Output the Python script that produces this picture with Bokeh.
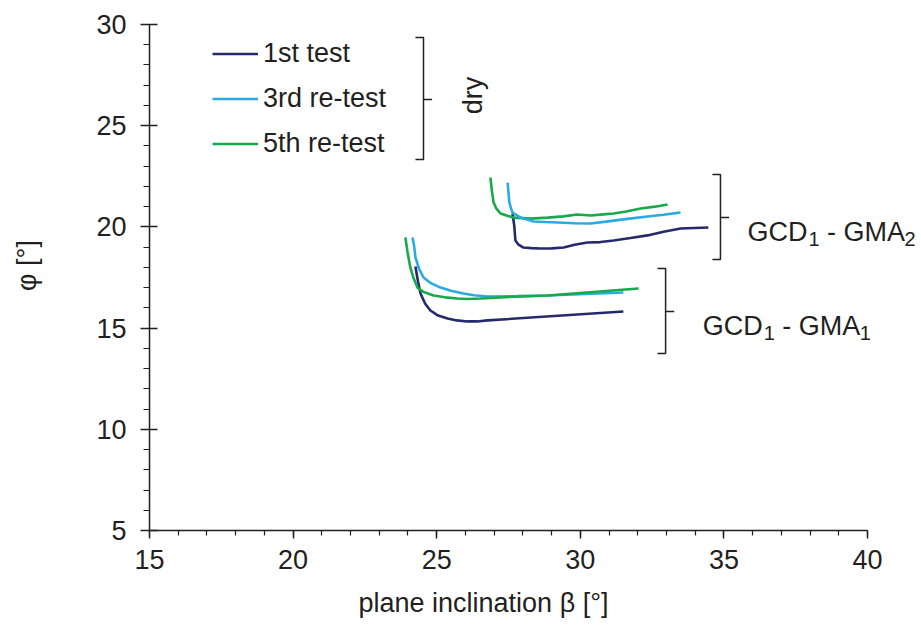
from bokeh.plotting import figure
from bokeh.models import (Range1d, SingleIntervalTicker, FixedTicker, LinearAxis,
                          Legend, LegendItem, Label, Title)
from bokeh.embed import file_html
from bokeh.resources import INLINE
import math

# ---- data ----
gma1_1st_x = [24.26, 24.30, 24.35, 24.44, 24.60, 24.78, 25.05, 25.38, 25.70, 26.07, 26.40, 26.77, 31.50]
gma1_1st_y = [18.04, 17.70, 17.30, 16.70, 16.20, 15.87, 15.62, 15.47, 15.38, 15.33, 15.33, 15.38, 15.82]
gma1_3rd_x = [24.16, 24.22, 24.26, 24.38, 24.54, 24.80, 25.13, 25.50, 25.93, 26.30, 26.77, 27.80, 28.86, 31.50]
gma1_3rd_y = [19.48, 19.00, 18.49, 17.95, 17.50, 17.22, 17.00, 16.85, 16.71, 16.62, 16.56, 16.58, 16.61, 16.76]
gma1_5th_x = [23.91, 23.98, 24.08, 24.20, 24.33, 24.55, 24.89, 25.30, 25.72, 26.10, 26.52, 27.70, 28.86, 32.03]
gma1_5th_y = [19.48, 18.80, 18.00, 17.45, 17.00, 16.78, 16.61, 16.52, 16.46, 16.44, 16.46, 16.55, 16.61, 16.96]

gma2_1st_x = [27.64, 27.67, 27.70, 27.74, 27.85, 28.02, 28.30, 28.61, 29.00, 29.42, 29.80, 30.25, 30.70, 31.16, 31.75, 32.34, 32.90, 33.49, 34.46]
gma2_1st_y = [20.66, 20.35, 20.07, 19.33, 19.12, 18.98, 18.95, 18.93, 18.94, 18.98, 19.12, 19.23, 19.25, 19.33, 19.45, 19.58, 19.76, 19.92, 19.97]
gma2_3rd_x = [27.47, 27.50, 27.53, 27.58, 27.64, 27.92, 28.37, 28.80, 29.21, 29.80, 30.36, 30.90, 31.50, 32.34, 32.90, 33.49]
gma2_3rd_y = [22.19, 21.70, 21.21, 20.95, 20.71, 20.46, 20.27, 20.24, 20.22, 20.18, 20.17, 20.26, 20.37, 20.51, 20.60, 20.71]
gma2_5th_x = [26.87, 26.92, 26.98, 27.08, 27.22, 27.67, 28.27, 28.86, 29.40, 29.90, 30.36, 30.80, 31.16, 31.60, 32.10, 32.60, 33.04]
gma2_5th_y = [22.44, 21.80, 21.21, 20.90, 20.66, 20.46, 20.41, 20.46, 20.52, 20.61, 20.56, 20.62, 20.66, 20.76, 20.91, 21.00, 21.11]

series_labels = ["1st test", "3rd re-test", "5th re-test"]
series_colors = ["#252a6c", "#2aaae2", "#18a94b"]

x_axis_bounds = (15, 40)
y_axis_bounds = (5, 30)
y_title_span = (12.6, 30)   # span along which the y-axis title is centred

# bracket annotations: (x of spine, y bottom, y top, y of middle tick)
bracket_dry = (24.54, 23.33, 29.36, 26.30)
bracket_gma2 = (34.88, 18.39, 22.59, 20.46)
bracket_gma1 = (32.97, 13.74, 17.94, 15.82)

INK = "#231f20"
FONT = "Liberation Sans"
FS = "27px"
SUBFS = "20px"

# frame: x 15..40 spans 718 px, y 5..30 spans 506 px; frame extended to the
# right/top canvas edges so that annotation texts are not clipped
FW, FH = 772, 530
x_end = x_axis_bounds[0] + (x_axis_bounds[1] - x_axis_bounds[0]) * FW / 718
y_end = y_axis_bounds[0] + (y_axis_bounds[1] - y_axis_bounds[0]) * FH / 506

p = figure(frame_width=FW, frame_height=FH,
           min_border_left=149, min_border_right=0,
           min_border_top=0, min_border_bottom=98,
           x_range=Range1d(x_axis_bounds[0], x_end), y_range=Range1d(y_axis_bounds[0], y_end),
           output_backend="svg", toolbar_location=None)
p.xgrid.visible = False
p.ygrid.visible = False
p.outline_line_color = None
p.background_fill_color = "white"
p.border_fill_color = "white"

for ax in (p.xaxis[0], p.yaxis[0]):
    ax.ticker = SingleIntervalTicker(interval=5, num_minor_ticks=5)
    ax.axis_line_color = INK
    ax.axis_line_width = 1.5
    ax.major_tick_line_color = INK
    ax.major_tick_line_width = 1.5
    ax.minor_tick_line_color = INK
    ax.minor_tick_line_width = 1.2
    ax.major_label_text_font = FONT
    ax.major_label_text_font_size = FS
    ax.major_label_text_color = INK
    ax.minor_tick_in = 0

p.xaxis[0].bounds = x_axis_bounds
p.yaxis[0].bounds = y_axis_bounds
p.xaxis[0].major_tick_in = 0
p.xaxis[0].major_tick_out = 8
p.xaxis[0].minor_tick_out = 5
p.xaxis[0].major_label_standoff = 11
p.yaxis[0].major_tick_in = 8
p.yaxis[0].major_tick_out = 9
p.yaxis[0].minor_tick_out = 6
p.yaxis[0].major_label_standoff = 14

# y axis title, carried by a bare extra axis so that it can sit higher up
title_axis = LinearAxis(ticker=FixedTicker(ticks=[]), bounds=y_title_span,
                        axis_line_color=None, major_tick_line_color=None,
                        minor_tick_line_color=None, major_label_standoff=0,
                        major_tick_in=0, major_tick_out=0, minor_tick_in=0, minor_tick_out=0,
                        axis_label="\u03c6 [\u00b0]", axis_label_standoff=52,
                        axis_label_text_font=FONT, axis_label_text_font_size=FS,
                        axis_label_text_font_style="normal", axis_label_text_color=INK)
p.add_layout(title_axis, "left")

# ---- curves ----
lw = 2.6
r1 = p.line(gma1_1st_x, gma1_1st_y, line_color=series_colors[0], line_width=lw)
r3 = p.line(gma1_3rd_x, gma1_3rd_y, line_color=series_colors[1], line_width=lw)
r5 = p.line(gma1_5th_x, gma1_5th_y, line_color=series_colors[2], line_width=lw)
p.line(gma2_1st_x, gma2_1st_y, line_color=series_colors[0], line_width=lw)
p.line(gma2_5th_x, gma2_5th_y, line_color=series_colors[2], line_width=lw)
p.line(gma2_3rd_x, gma2_3rd_y, line_color=series_colors[1], line_width=lw)

legend = Legend(items=[LegendItem(label=series_labels[0], renderers=[r1]),
                       LegendItem(label=series_labels[1], renderers=[r3]),
                       LegendItem(label=series_labels[2], renderers=[r5])],
                location=(63, 364), glyph_width=46, glyph_height=45, label_height=45,
                spacing=0, padding=0, margin=0, label_standoff=5,
                border_line_color=None, background_fill_alpha=0,
                label_text_font=FONT, label_text_font_size=FS, label_text_color=INK)
p.add_layout(legend, "center")

# ---- brackets ----
serif = 0.28   # data units leftwards
tick = 0.30    # data units rightwards
for (bx, yb, yt, ym) in (bracket_dry, bracket_gma2, bracket_gma1):
    p.multi_line(xs=[[bx - serif, bx, bx, bx - serif], [bx, bx + tick]],
                 ys=[[yt, yt, yb, yb], [ym, ym]],
                 line_color=INK, line_width=1.5)

# ---- texts ----
p.add_layout(Label(x=26.25, y=26.49, text="dry", angle=math.pi / 2,
                   text_align="center", text_baseline="middle",
                   text_font=FONT, text_font_size=FS, text_color=INK))

NB = "\u00a0"
def group_label(x, y, sub2):
    parts = [("GCD", 0, 0, FS), ("1", 61, -7, SUBFS),
             (NB + "-" + NB + "GMA", 72, 0, FS), (sub2, 157, -7, SUBFS)]
    for txt, dx, dy, fs in parts:
        p.add_layout(Label(x=x, y=y, x_offset=dx, y_offset=dy, text=txt,
                           text_align="left", text_baseline="alphabetic",
                           text_font=FONT, text_font_size=fs, text_color=INK))

group_label(35.82, 19.77, "2")
group_label(34.26, 15.08, "1")

# x axis title
p.add_layout(Title(text="plane inclination \u03b2 [\u00b0]", align="left", offset=209,
                   standoff=28,
                   text_font=FONT, text_font_size=FS, text_font_style="normal",
                   text_color=INK), "below")

open("out.html", "w").write(file_html(p, INLINE))
